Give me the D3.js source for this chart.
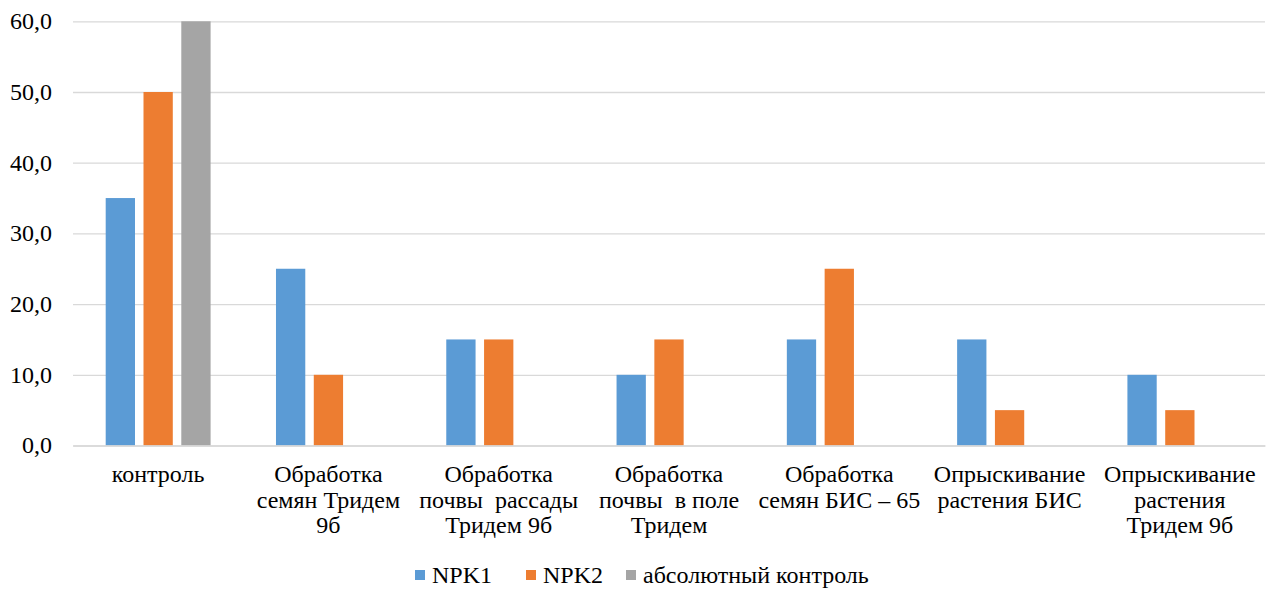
<!DOCTYPE html>
<html><head><meta charset="utf-8">
<script src="https://cdn.jsdelivr.net/npm/d3@7"></script>
</head>
<body style="margin:0">
<svg id="chart" width="1271" height="589"></svg>
<script>
const categories = [
  "контроль",
  "Обработка семян Тридем 9б",
  "Обработка почвы  рассады Тридем 9б",
  "Обработка почвы  в поле Тридем",
  "Обработка семян БИС – 65",
  "Опрыскивание растения БИС",
  "Опрыскивание растения Тридем 9б"
];
const categoryLines = [
  ["контроль"],
  ["Обработка", "семян Тридем", "9б"],
  ["Обработка", "почвы  рассады", "Тридем 9б"],
  ["Обработка", "почвы  в поле", "Тридем"],
  ["Обработка", "семян БИС – 65"],
  ["Опрыскивание", "растения БИС"],
  ["Опрыскивание", "растения", "Тридем 9б"]
];
const seriesNames = ["NPK1", "NPK2", "абсолютный контроль"];
const npk1 = [35, 25, 15, 10, 15, 15, 10];
const npk2 = [50, 10, 15, 15, 25, 5, 5];
const absControl = [60, null, null, null, null, null, null];
const yTicks = [0, 10, 20, 30, 40, 50, 60];
const colors = ["#5B9BD5", "#ED7D31", "#A5A5A5"];

const FONT = "Liberation Serif";
const FS = "24px";

const seriesValues = [npk1, npk2, absControl];
const svg = d3.select("#chart");
const mLeft = 73, mRight = 1265, mTop = 21.3, mBottom = 445.5;

const x0 = d3.scaleBand().domain(categories).range([mLeft, mRight]).padding(0);
const x1 = d3.scaleBand().domain(seriesNames).range([0, x0.bandwidth()])
  .paddingInner(0.225).paddingOuter(0.865);
const y = d3.scaleLinear().domain([0, 60]).range([mBottom, mTop]);

const fmt = v => d3.format(".1f")(v).replace(".", ",");

// gridlines
const yGrid = d3.axisLeft(y).tickValues(yTicks).tickSize(-(mRight - mLeft)).tickFormat("");
const gy = svg.append("g").attr("transform", `translate(${mLeft},0)`).call(yGrid);
gy.select(".domain").remove();
gy.selectAll(".tick line").attr("stroke", "#D9D9D9").attr("stroke-width", 1.3);
gy.selectAll(".tick text").remove();

// y labels
svg.append("g").selectAll("text").data(yTicks).join("text")
  .attr("x", mLeft - 21)
  .attr("y", d => y(d))
  .attr("dy", "0.33em")
  .attr("text-anchor", "end")
  .style("font-family", FONT)
  .style("font-size", FS)
  .text(fmt);

// bars
const rows = categories.map((c, i) => ({cat: c, vals: seriesNames.map((s, j) => ({s, j, v: seriesValues[j][i]}))}));
const groups = svg.append("g").selectAll("g").data(rows).join("g")
  .attr("transform", d => `translate(${x0(d.cat)},0)`);
groups.selectAll("rect").data(d => d.vals.filter(v => v.v != null)).join("rect")
  .attr("x", d => x1(d.s))
  .attr("width", x1.bandwidth())
  .attr("y", d => y(d.v))
  .attr("height", d => y(0) - y(d.v))
  .attr("fill", d => colors[d.j]);

// x axis baseline
const xAxis = d3.axisBottom(x0).tickSize(0).tickFormat("");
const gx = svg.append("g").attr("transform", `translate(0,${mBottom})`).call(xAxis);
gx.select(".domain").attr("stroke", "#D9D9D9").attr("stroke-width", 1.3);
gx.selectAll(".tick text").remove();

// category labels
const labG = svg.append("g");
categories.forEach((c, i) => {
  const cx = x0(c) + x0.bandwidth() / 2;
  const t = labG.append("text")
    .attr("x", cx)
    .attr("text-anchor", "middle")
    .attr("xml:space", "preserve")
    .style("font-family", FONT)
    .style("font-size", FS);
  categoryLines[i].forEach((ln, k) => {
    t.append("tspan").attr("x", cx).attr("y", 482 + k * 25.7).text(ln);
  });
});

// legend
const legendX = [415, 526, 626];
const lg = svg.append("g");
seriesNames.forEach((s, i) => {
  lg.append("rect").attr("x", legendX[i]).attr("y", 570).attr("width", 10).attr("height", 10).attr("fill", colors[i]);
  lg.append("text").attr("x", legendX[i] + 17).attr("y", 583)
    .style("font-family", FONT).style("font-size", FS).text(s);
});
</script>
</body></html>
